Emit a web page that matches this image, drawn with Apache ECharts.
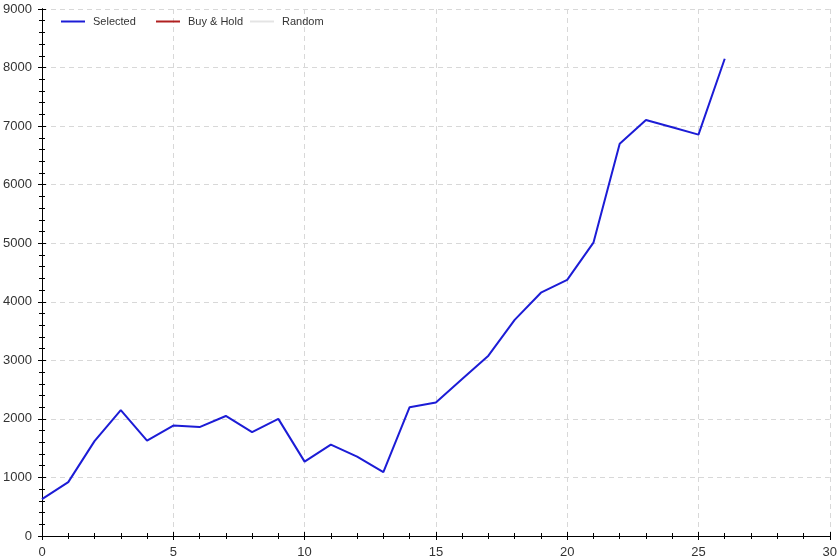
<!DOCTYPE html>
<html><head><meta charset="utf-8">
<script src="https://cdn.jsdelivr.net/npm/echarts@6/dist/echarts.min.js"></script>
<style>html,body{margin:0;padding:0;background:#fff}#c{width:840px;height:559px}</style>
</head><body><div id="c"></div>
<script>
const xValues = [0,1,2,3,4,5,6,7,8,9,10,11,12,13,14,15,16,17,18,19,20,21,22,23,24,25,26];
const selectedValues = [630,920,1620,2150,1630,1885,1860,2050,1775,2000,1270,1560,1355,1090,2200,2280,2680,3080,3690,4155,4375,5010,6700,7105,6980,6855,8150];
const buyHoldValues = [];
const randomValues = [];
const seriesNames = ['Selected','Buy & Hold','Random'];

const chart = echarts.init(document.getElementById('c'));
const FF = 'Liberation Sans, Arial, sans-serif';
const font = {fontFamily:FF, fontSize:13, color:'#333'};
const axLine = {show:true, lineStyle:{color:'#000', width:1}};
function xAx(pos, showLabel, inside, extra){
  return Object.assign({type:'value', min:0, max:30, interval:5, position:pos,
    axisLine:axLine,
    axisTick:{show:true, inside:inside, length:4, lineStyle:{color:'#000'}},
    minorTick:{show:true, splitNumber:5, length:3, lineStyle:{color:'#000'}},
    axisLabel:Object.assign({show:showLabel, margin:10}, font),
    splitLine:{show:false}}, extra||{});
}
function yAx(pos, showLabel, inside, extra){
  return Object.assign({type:'value', min:0, max:9000, interval:1000, position:pos,
    axisLine:axLine,
    axisTick:{show:true, inside:inside, length:4, lineStyle:{color:'#000'}},
    minorTick:{show:true, splitNumber:5, length:3, lineStyle:{color:'#000'}},
    axisLabel:Object.assign({show:showLabel, margin:10, formatter:v=>String(v)}, font),
    splitLine:{show:false}}, extra||{});
}
const dashed = {show:true, lineStyle:{color:'#d8d8d8', type:[5,4], width:1}};
const legendStarts = [56, 151, 245];
chart.setOption({
  animation:false,
  backgroundColor:'#fff',
  grid:{left:42, right:7, top:9, bottom:21, containLabel:false},
  legend: seriesNames.map((n,i)=>({left:legendStarts[i], top:11, itemWidth:24, itemHeight:2,
    textStyle:{fontFamily:FF, fontSize:11, color:'#333', padding:[0,0,0,3]},
    icon:'rect', data:[n]})),
  xAxis:[
    xAx('bottom', true, true, {splitLine:dashed}),
    xAx('bottom', false, false, {minorTick:{show:false}}),
    xAx('top', false, true),
  ],
  yAxis:[
    yAx('left', true, true, {splitLine:dashed}),
    yAx('left', false, false, {minorTick:{show:false}}),
    yAx('right', false, true),
  ],
  series:[
    {name:seriesNames[0], type:'line', data:xValues.map((x,i)=>[x,selectedValues[i]]),
      showSymbol:false, lineStyle:{color:'#1c1cd6', width:2}, itemStyle:{color:'#1c1cd6'}},
    {name:seriesNames[1], type:'line', data:buyHoldValues, showSymbol:false,
      lineStyle:{color:'#b02020', width:2}, itemStyle:{color:'#b02020'}},
    {name:seriesNames[2], type:'line', data:randomValues, showSymbol:false,
      lineStyle:{color:'#e4e4e4', width:2}, itemStyle:{color:'#e4e4e4'}}
  ]
});
</script></body></html>
